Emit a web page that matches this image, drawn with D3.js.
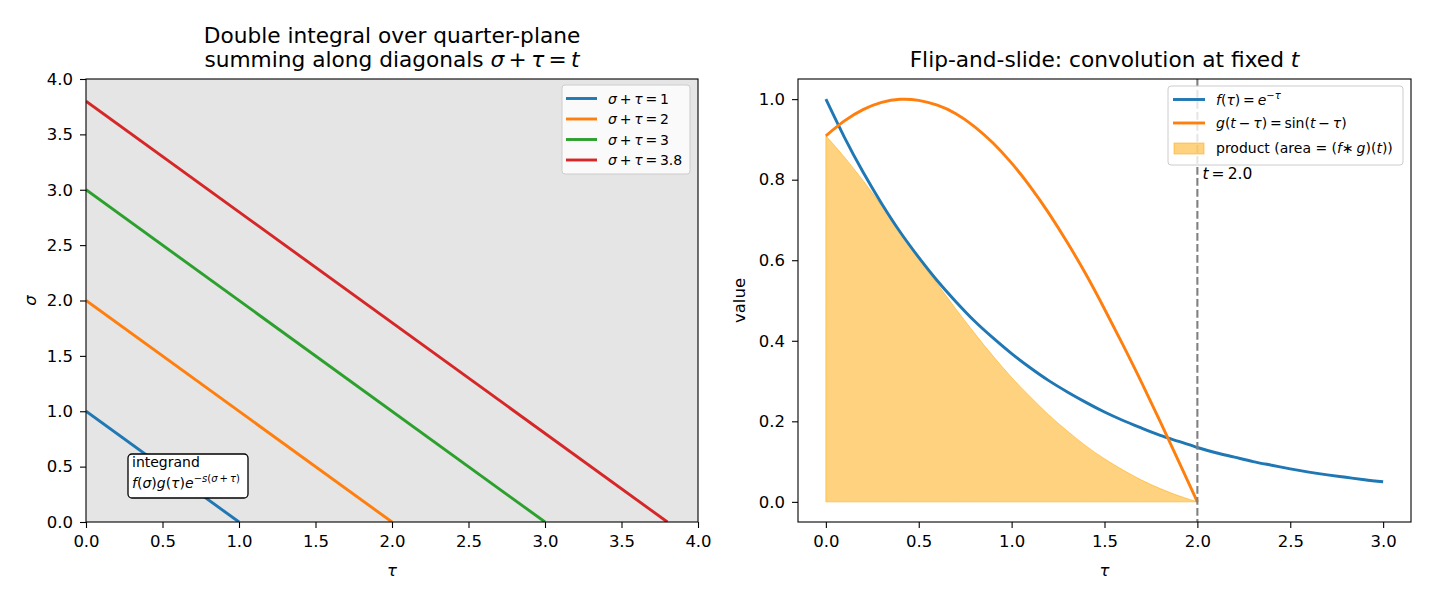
<!DOCTYPE html>
<html><head><meta charset="utf-8">
<script src="https://cdn.jsdelivr.net/npm/d3@7"></script>
<style>
body{margin:0;background:#fff;}
svg text{font-family:"DejaVu Sans",sans-serif;fill:#000;}
</style></head>
<body><svg id="c" width="1430" height="598"></svg>
<script>
// ---------- data ----------
const diagonals = [1, 2, 3, 3.8];
const diagColors = ["#1f77b4", "#ff7f0e", "#2ca02c", "#d62728"];
const leftTicks = [0, 0.5, 1, 1.5, 2, 2.5, 3, 3.5, 4];

const tau = [0,0.1,0.2,0.3,0.4,0.5,0.6,0.7,0.8,0.9,1.0,1.1,1.2,1.3,1.4,1.5,1.6,1.7,1.8,1.9,2.0,
             2.1,2.2,2.3,2.4,2.5,2.6,2.7,2.8,2.9,3.0];
const fVals = [1.000,0.905,0.819,0.741,0.670,0.607,0.549,0.497,0.449,0.407,0.368,0.333,0.301,0.273,0.247,0.223,
               0.202,0.183,0.165,0.150,0.135,0.122,0.111,0.100,0.091,0.082,0.074,0.067,0.061,0.055,0.050];
const gVals = [0.909,0.946,0.974,0.992,0.9996,0.997,0.985,0.964,0.932,0.891,0.841,0.783,0.717,0.644,0.565,0.479,
               0.389,0.296,0.199,0.100,0.000];
const prodVals = [0.909,0.856,0.798,0.735,0.670,0.605,0.541,0.479,0.419,0.362,0.309,0.261,0.216,0.176,0.139,0.107,
                  0.079,0.054,0.033,0.015,0.000];
const tFixed = 2.0;
const rightXTicks = [0, 0.5, 1, 1.5, 2, 2.5, 3];
const rightYTicks = [0, 0.2, 0.4, 0.6, 0.8, 1.0];

const svg = d3.select("#c");
const FS = 16.5;      // tick / axis label size
const TS = 21.7;      // title size
const LS = 14;        // legend / annotation size
const LW = 2.9;       // line width
const TH = "\u2009";  // thin space for math spacing

function axisStyle(g){
  g.selectAll("path.domain").remove();
  g.selectAll("line").attr("stroke","#000").attr("stroke-width",1.1);
  g.selectAll("text").attr("font-size",FS).attr("fill","#000");
}
function mathText(sel, parts){
  parts.forEach(p=>{
    const t = sel.append("tspan").text(p[0]);
    if (p[1]) t.attr("font-style","italic");
    if (p[2]) Object.entries(p[2]).forEach(([k,v])=>t.attr(k,v));
  });
}

// ---------- left panel ----------
const L = {x0:86, x1:698, y0:79, y1:522};
const lx = d3.scaleLinear().domain([0,4]).range([L.x0,L.x1]);
const ly = d3.scaleLinear().domain([0,4]).range([L.y1,L.y0]);
const lg = svg.append("g");
lg.append("rect").attr("x",L.x0).attr("y",L.y0).attr("width",L.x1-L.x0).attr("height",L.y1-L.y0).attr("fill","#e5e5e5");
const clipL = svg.append("clipPath").attr("id","clipL");
clipL.append("rect").attr("x",L.x0).attr("y",L.y0).attr("width",L.x1-L.x0).attr("height",L.y1-L.y0);
const line = d3.line().x(d=>lx(d[0])).y(d=>ly(d[1]));
diagonals.forEach((c,i)=>{
  lg.append("path").attr("d",line([[0,c],[c,0]])).attr("stroke",diagColors[i]).attr("stroke-width",LW)
    .attr("fill","none").attr("clip-path","url(#clipL)");
});
lg.append("g").attr("transform",`translate(0,${L.y1})`)
  .call(d3.axisBottom(lx).tickValues(leftTicks).tickFormat(d3.format(".1f")).tickSize(6).tickPadding(7)).call(axisStyle);
lg.append("g").attr("transform",`translate(${L.x0},0)`)
  .call(d3.axisLeft(ly).tickValues(leftTicks).tickFormat(d3.format(".1f")).tickSize(6).tickPadding(7)).call(axisStyle);
lg.append("rect").attr("x",L.x0).attr("y",L.y0).attr("width",L.x1-L.x0).attr("height",L.y1-L.y0)
  .attr("fill","none").attr("stroke","#000").attr("stroke-width",1.1);

// annotation box
const ann = lg.append("g");
ann.append("rect").attr("x",128).attr("y",454).attr("width",120).attr("height",44).attr("rx",4)
  .attr("fill","#fff").attr("stroke","#000").attr("stroke-width",1.3);
ann.append("text").attr("x",132).attr("y",467).attr("font-size",LS).text("integrand");
const a2 = ann.append("text").attr("x",132).attr("y",488).attr("font-size",LS);
mathText(a2, [["f",1],["("],["σ",1],[")"],["g",1],["("],["τ",1],[")"],["e",1],
  ["−",0,{"font-size":10,"dy":-6}],["s",1,{"font-size":10}],["(",0,{"font-size":10}],["σ",1,{"font-size":10}],
  [TH+"+"+TH,0,{"font-size":10}],["τ",1,{"font-size":10}],[")",0,{"font-size":10}]]);

// left legend
const lleg = lg.append("g");
lleg.append("rect").attr("x",562).attr("y",85).attr("width",128).attr("height",89).attr("rx",3)
  .attr("fill","#fff").attr("fill-opacity",0.8).attr("stroke","#ccc").attr("stroke-width",1);
diagonals.forEach((c,i)=>{
  const y = 98.5 + i*20.5;
  lleg.append("line").attr("x1",566).attr("x2",597).attr("y1",y).attr("y2",y).attr("stroke",diagColors[i]).attr("stroke-width",LW);
  const t = lleg.append("text").attr("x",608).attr("y",y+5).attr("font-size",LS);
  mathText(t, [["σ",1],[TH+"+"+TH],["τ",1],[TH+"="+TH+c]]);
});

// left titles/labels
lg.append("text").attr("x",(L.x0+L.x1)/2).attr("y",43).attr("text-anchor","middle").attr("font-size",TS)
  .text("Double integral over quarter-plane");
const lt2 = lg.append("text").attr("x",(L.x0+L.x1)/2).attr("y",67).attr("text-anchor","middle").attr("font-size",TS);
mathText(lt2, [["summing along diagonals "],["σ",1],[TH+"+"+TH],["τ",1],[TH+"="+TH],["t",1]]);
lg.append("text").attr("x",(L.x0+L.x1)/2).attr("y",576).attr("text-anchor","middle").attr("font-size",FS)
  .attr("font-style","italic").text("τ");
lg.append("text").attr("transform",`translate(36,${(L.y0+L.y1)/2}) rotate(-90)`).attr("text-anchor","middle")
  .attr("font-size",FS).attr("font-style","italic").text("σ");

// ---------- right panel ----------
const R = {x0:798, x1:1411, y0:79, y1:522};
const rx = d3.scaleLinear().domain([-0.15,3.15]).range([R.x0,R.x1]);
const ry = d3.scaleLinear().domain([-0.05,1.05]).range([R.y1,R.y0]);
const rg = svg.append("g");
const fData = tau.map((t,i)=>[t,fVals[i]]);
const gData = gVals.map((v,i)=>[tau[i],v]);
const pData = prodVals.map((v,i)=>[tau[i],v]);

rg.append("path").datum(pData)
  .attr("d",d3.area().x(d=>rx(d[0])).y0(ry(0)).y1(d=>ry(d[1])).curve(d3.curveMonotoneX))
  .attr("fill","#ffa500").attr("fill-opacity",0.5).attr("stroke","#ffa500").attr("stroke-opacity",0.5).attr("stroke-width",1);
const rline = d3.line().x(d=>rx(d[0])).y(d=>ry(d[1])).curve(d3.curveNatural);
rg.append("path").datum(fData).attr("d",rline).attr("fill","none").attr("stroke","#1f77b4").attr("stroke-width",LW);
rg.append("path").datum(gData).attr("d",rline).attr("fill","none").attr("stroke","#ff7f0e").attr("stroke-width",LW);
rg.append("line").attr("x1",rx(tFixed)).attr("x2",rx(tFixed)).attr("y1",R.y0).attr("y2",R.y1)
  .attr("stroke","#808080").attr("stroke-width",2.1).attr("stroke-dasharray","7.7,3.3");
const tl = rg.append("text").attr("x",rx(tFixed)+5).attr("y",ry(0.8)-0.5).attr("font-size",15.5);
mathText(tl, [["t",1],[TH+"="+TH+"2.0"]]);

rg.append("g").attr("transform",`translate(0,${R.y1})`)
  .call(d3.axisBottom(rx).tickValues(rightXTicks).tickFormat(d3.format(".1f")).tickSize(6).tickPadding(7)).call(axisStyle);
rg.append("g").attr("transform",`translate(${R.x0},0)`)
  .call(d3.axisLeft(ry).tickValues(rightYTicks).tickFormat(d3.format(".1f")).tickSize(6).tickPadding(7)).call(axisStyle);
rg.append("rect").attr("x",R.x0).attr("y",R.y0).attr("width",R.x1-R.x0).attr("height",R.y1-R.y0)
  .attr("fill","none").attr("stroke","#000").attr("stroke-width",1.1);

// right legend
const rleg = rg.append("g");
rleg.append("rect").attr("x",1168).attr("y",86).attr("width",235).attr("height",79).attr("rx",3)
  .attr("fill","#fff").attr("fill-opacity",0.8).attr("stroke","#ccc").attr("stroke-width",1);
rleg.append("line").attr("x1",1173).attr("x2",1205).attr("y1",99.5).attr("y2",99.5).attr("stroke","#1f77b4").attr("stroke-width",LW);
rleg.append("line").attr("x1",1173).attr("x2",1205).attr("y1",123).attr("y2",123).attr("stroke","#ff7f0e").attr("stroke-width",LW);
rleg.append("rect").attr("x",1174).attr("y",143).attr("width",30).attr("height",11)
  .attr("fill","#ffa500").attr("fill-opacity",0.5).attr("stroke","#ffa500").attr("stroke-opacity",0.5);
const e1 = rleg.append("text").attr("x",1216).attr("y",104.5).attr("font-size",LS);
mathText(e1, [["f",1],["("],["τ",1],[")"+TH+"="+TH],["e",1],["−",0,{"font-size":10,"dy":-6}],["τ",1,{"font-size":10}]]);
const e2 = rleg.append("text").attr("x",1216).attr("y",128).attr("font-size",LS);
mathText(e2, [["g",1],["("],["t",1],[TH+"−"+TH],["τ",1],[")"+TH+"="+TH+"sin("],["t",1],[TH+"−"+TH],["τ",1],[")"]]);
const e3 = rleg.append("text").attr("x",1216).attr("y",153).attr("font-size",LS);
mathText(e3, [["product (area = ("],["f",1],["∗"+TH],["g",1],[")("],["t",1],["))"]]);

// right titles/labels
const rt = rg.append("text").attr("x",(R.x0+R.x1)/2).attr("y",67).attr("text-anchor","middle").attr("font-size",TS);
mathText(rt, [["Flip-and-slide: convolution at fixed "],["t",1]]);
rg.append("text").attr("x",(R.x0+R.x1)/2).attr("y",576).attr("text-anchor","middle").attr("font-size",FS)
  .attr("font-style","italic").text("τ");
rg.append("text").attr("transform",`translate(745,${(R.y0+R.y1)/2}) rotate(-90)`).attr("text-anchor","middle")
  .attr("font-size",FS).text("value");
</script></body></html>
